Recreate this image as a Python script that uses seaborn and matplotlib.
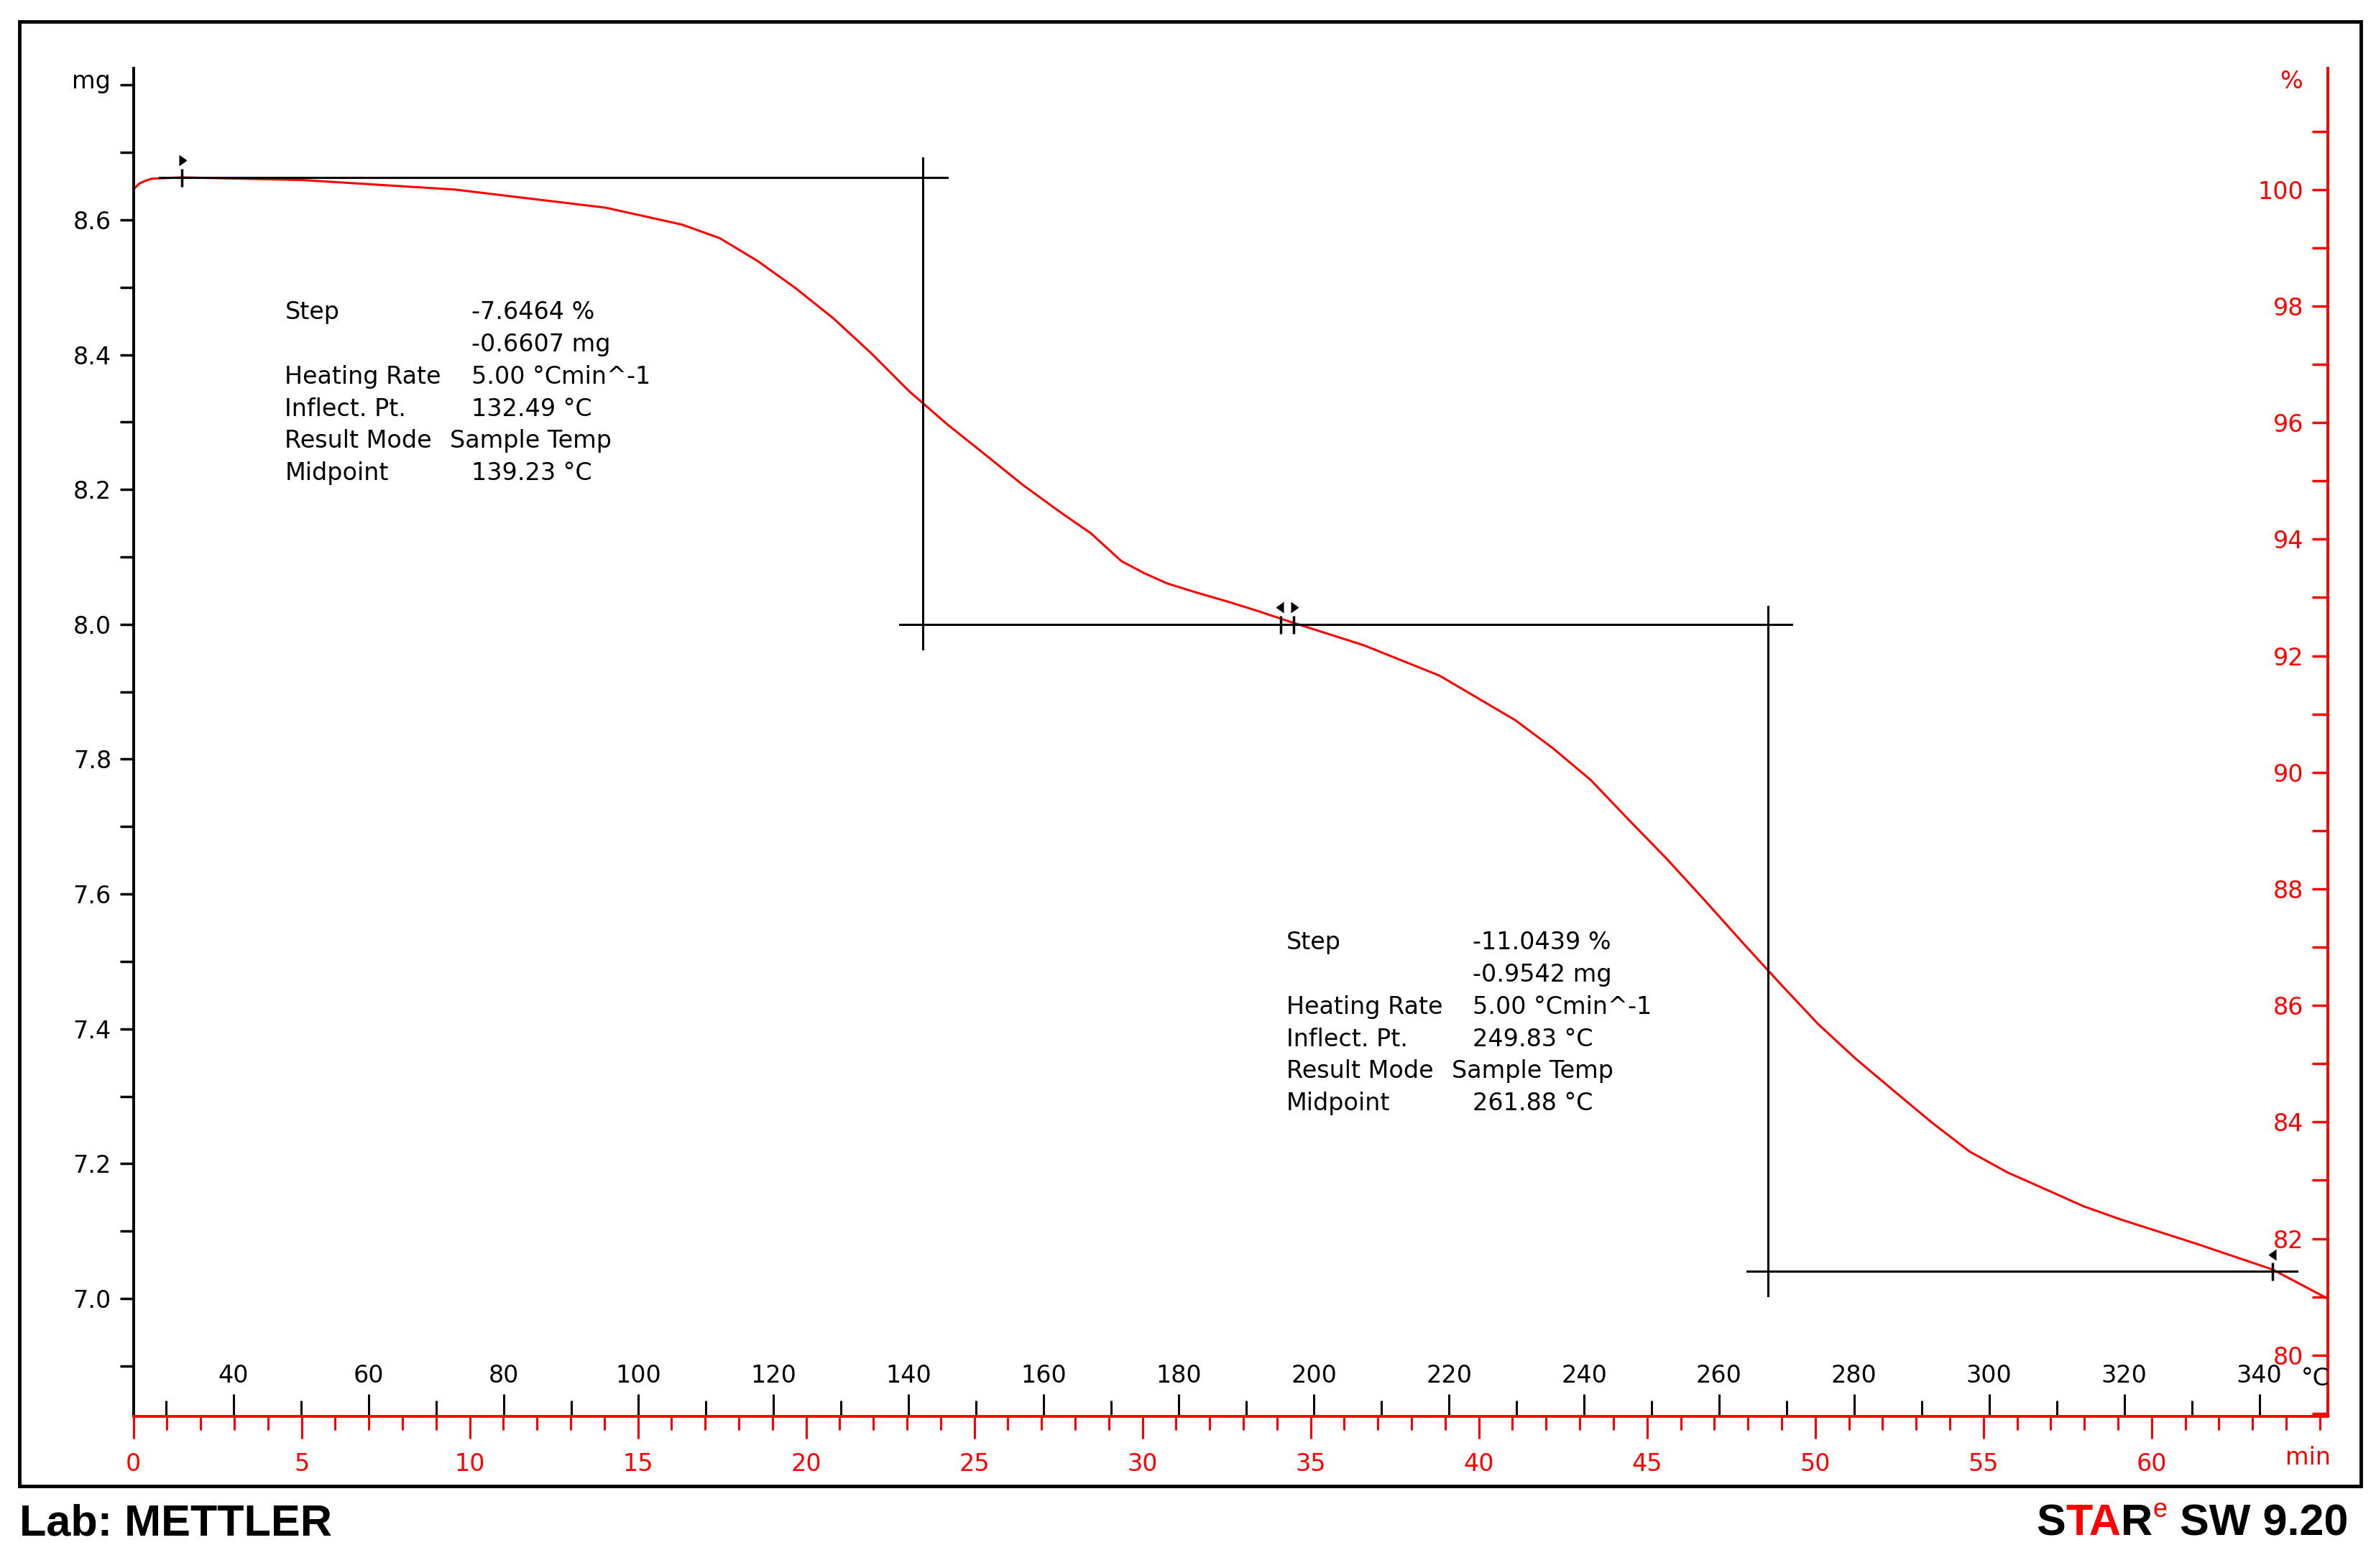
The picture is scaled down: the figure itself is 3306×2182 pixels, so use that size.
import numpy as np
import pandas as pd
import matplotlib
matplotlib.use('Agg')
import matplotlib.pyplot as plt
import seaborn as sns
from matplotlib.patches import Rectangle

# TGA curve: time (min) vs sample mass (mg)
px = [88, 92, 96, 100, 120, 200, 300, 400, 450, 475, 500, 525, 550, 575, 600, 625, 650,
      675, 700, 720, 740, 755, 770, 790, 810, 830, 850, 900, 950, 1000, 1025, 1050, 1075,
      1100, 1125, 1150, 1175, 1200, 1225, 1250, 1275, 1300, 1325, 1350, 1375, 1400, 1450,
      1500, 1536]
time_min = [round((x - 88) / 22.2, 2) for x in px]
mass_mg = [8.645, 8.654, 8.658, 8.661, 8.663, 8.659, 8.645, 8.618, 8.593, 8.573, 8.539,
           8.499, 8.454, 8.402, 8.346, 8.297, 8.252, 8.207, 8.166, 8.135, 8.094, 8.076,
           8.061, 8.047, 8.034, 8.020, 8.005, 7.969, 7.924, 7.858, 7.816, 7.769, 7.710,
           7.652, 7.591, 7.528, 7.467, 7.407, 7.355, 7.308, 7.261, 7.218, 7.187, 7.162,
           7.137, 7.117, 7.081, 7.043, 7.000]
initial_mass = 8.645  # mg, equals 100 %

# temperature axis: T = T_START + RATE * t
T_START = 25.19
RATE = 4.981
temp_ticks = [40, 60, 80, 100, 120, 140, 160, 180, 200, 220, 240, 260, 280, 300, 320, 340]
time_ticks = [0, 5, 10, 15, 20, 25, 30, 35, 40, 45, 50, 55, 60]
mg_ticks = [7.0, 7.2, 7.4, 7.6, 7.8, 8.0, 8.2, 8.4, 8.6]
pct_ticks = [80, 82, 84, 86, 88, 90, 92, 94, 96, 98, 100]

# evaluation construction lines (time min, mass mg)
step1 = dict(h1=(0.77, 24.19, 8.663), v=(23.47, 8.692, 7.964), h2=(22.79, 49.31, 8.0))
step2 = dict(v=(48.59, 8.027, 7.004), h3=(47.97, 64.33, 7.04))

step1_text = [("Step", "-7.6464 %"), ("", "-0.6607 mg"), ("Heating Rate", "5.00 °Cmin^-1"),
              ("Inflect. Pt.", "132.49 °C"), ("Result Mode", "Sample Temp"), ("Midpoint", "139.23 °C")]
step2_text = [("Step", "-11.0439 %"), ("", "-0.9542 mg"), ("Heating Rate", "5.00 °Cmin^-1"),
              ("Inflect. Pt.", "249.83 °C"), ("Result Mode", "Sample Temp"), ("Midpoint", "261.88 °C")]

W, H = 1568, 1035  # layout reference units
FS = 24
plt.rcParams['font.family'] = 'DejaVu Sans'

fig = plt.figure(figsize=(33.06, 21.82), dpi=100)
ax = fig.add_axes([88 / W, 1 - 935 / H, (1536 - 88) / W, (935 - 45) / H])
XMAX = 65.23
YMIN, YMAX = 6.825, 8.825
ax.set_xlim(0, XMAX)
ax.set_ylim(YMIN, YMAX)

df = pd.DataFrame({'time': time_min, 'mass': mass_mg})
sns.lineplot(data=df, x='time', y='mass', ax=ax, color='#ff0000', lw=2.2)
ax.set_xlabel('')
ax.set_ylabel('')

# construction lines
kw = dict(color='black', lw=2.2)
ax.plot([step1['h1'][0], step1['h1'][1]], [step1['h1'][2]] * 2, **kw)
ax.plot([step1['v'][0]] * 2, [step1['v'][1], step1['v'][2]], **kw)
ax.plot([step1['h2'][0], step1['h2'][1]], [step1['h2'][2]] * 2, **kw)
ax.plot([step2['v'][0]] * 2, [step2['v'][1], step2['v'][2]], **kw)
ax.plot([step2['h3'][0], step2['h3'][1]], [step2['h3'][2]] * 2, **kw)
# evaluation limit markers
for t, m, mk in [(1.44, 8.663, 5), (34.1, 8.0, 4), (34.5, 8.0, 5), (63.6, 7.04, 4)]:
    ax.plot([t], [m], marker='|', color='black', ms=18, mew=2.5)
    ax.plot([t + (0.12 if mk == 5 else -0.12)], [m + 0.025], marker=mk, color='black', ms=10)

# spines
ax.spines['top'].set_visible(False)
ax.spines['right'].set_visible(False)
ax.spines['left'].set_linewidth(2.8)
ax.spines['bottom'].set_color('#ff0000')
ax.spines['bottom'].set_linewidth(2.8)

# left mg axis
ax.set_yticks(mg_ticks)
ax.set_yticklabels([f"{v:.1f}" for v in mg_ticks])
ax.set_yticks(np.arange(6.9, 8.85, 0.1), minor=True)
ax.tick_params(axis='y', which='both', direction='out', length=14, width=2.5,
               labelsize=FS, pad=8, colors='black')

# bottom time axis
ax.set_xticks(time_ticks)
ax.set_xticks(np.arange(0, 66, 1), minor=True)
ax.tick_params(axis='x', which='major', direction='out', length=22, width=2.2,
               colors='#ff0000', labelsize=FS, pad=14)
ax.tick_params(axis='x', which='minor', direction='out', length=14, width=2.2, colors='#ff0000')

# temperature axis ticks above the time axis
sec = ax.secondary_xaxis(0.0, functions=(lambda t: T_START + RATE * t,
                                         lambda T: (T - T_START) / RATE))
sec.spines['bottom'].set_visible(False)
sec.spines['top'].set_visible(False)
sec.set_xticks(temp_ticks)
sec.set_xticks(np.arange(30, 351, 10), minor=True)
sec.xaxis.set_ticks_position('top')
sec.tick_params(axis='x', which='major', direction='out', length=22, width=2.2,
                colors='black', labelsize=FS, pad=7, top=True, labeltop=True,
                bottom=False, labelbottom=False)
sec.tick_params(axis='x', which='minor', direction='out', length=16, width=2.2,
                colors='black', top=True, bottom=False)

# right % axis
ax2 = ax.twinx()
ax2.set_ylim(YMIN / initial_mass * 100, YMAX / initial_mass * 100)
for s in ['top', 'left', 'bottom']:
    ax2.spines[s].set_visible(False)
ax2.spines['right'].set_color('#ff0000')
ax2.spines['right'].set_linewidth(2.8)
ax2.set_yticks(pct_ticks)
ax2.set_yticks(np.arange(79, 102, 1), minor=True)
ax2.tick_params(axis='y', which='both', direction='in', length=16, width=2.5,
                colors='#ff0000', labelsize=FS)
ax2.tick_params(axis='y', which='major', pad=-24)
for lab in ax2.get_yticklabels():
    lab.set_horizontalalignment('right')

# unit labels
def ftext(x, y, s, **k):
    return fig.text(x / W, 1 - y / H, s, va='center', **k)

ftext(60, 54, 'mg', fontsize=FS, ha='center')
ftext(1512, 54, '%', fontsize=FS, ha='center', color='#ff0000')
ftext(1528, 910, '°C', fontsize=FS, ha='center')
ftext(1523, 962, 'min', fontsize=FS, ha='center', color='#ff0000')

# result blocks
for (x0, y0, rows) in [(188, 206, step1_text), (849, 622, step2_text)]:
    for i, (a, b) in enumerate(rows):
        y = y0 + i * 21.3
        ftext(x0, y, a, fontsize=FS)
        xb = x0 + (109 if a == 'Result Mode' else 123)
        ftext(xb, y, b, fontsize=FS)

# outer frame
fig.patches.append(Rectangle((13 / W, 1 - 981 / H), (1558 - 13) / W, (981 - 14) / H,
                             transform=fig.transFigure, fill=False, lw=3.5, ec='black'))

# footer
fkw = dict(fontsize=44, fontweight='bold', family='Liberation Sans')
ftext(13, 1006, 'Lab: METTLER', **fkw)
renderer = fig.canvas.get_renderer()
pieces = [('S', 'black', 44, 1006), ('TA', '#ff0000', 44, 1006), ('R', 'black', 44, 1006),
          ('e', '#ff0000', 26, 997), (' SW 9.20', 'black', 44, 1006)]
x_cur = 1344 / W
for s, c, size, yy in pieces:
    t = fig.text(x_cur, 1 - yy / H, s, fontsize=size, fontweight='bold' if size == 44 else 'normal',
                 family='Liberation Sans', color=c, va='center')
    bb = t.get_window_extent(renderer)
    x_cur += bb.width / fig.bbox.width

fig.savefig('out.png', dpi=100)
